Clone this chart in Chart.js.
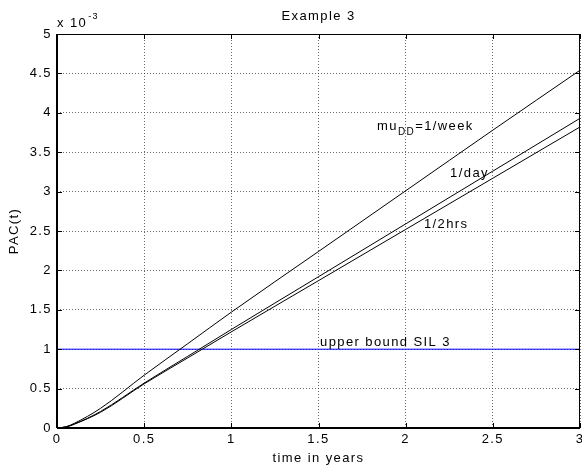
<!DOCTYPE html>
<html lang="en">

<head>
  <meta charset="utf-8">
  <title>Example 3</title>
  <script src="https://cdn.jsdelivr.net/npm/chart.js@4.4.0/dist/chart.umd.min.js"></script>
  <style>
    body { margin: 0; background: #fff; }
    #wrap { width: 582px; height: 470px; }
  </style>
</head>

<body>
  <div id="wrap"><canvas id="myChart" width="582" height="470"></canvas></div>

  <script>
    // time in years, PAC(t) in units of 1e-3
    const years = [0, 0.05, 0.1, 0.25, 0.5, 0.75, 1, 1.5, 2, 2.5, 3];
    const pacWeek = [0, 0.015, 0.06, 0.25, 0.67, 1.07, 1.47, 2.24, 3.01, 3.78, 4.54];
    const pacDay = [0, 0.012, 0.05, 0.21, 0.57, 0.91, 1.25, 1.92, 2.59, 3.26, 3.93];
    const pacHalfHr = [0, 0.012, 0.05, 0.2, 0.56, 0.89, 1.22, 1.87, 2.52, 3.17, 3.82];
    const silBound = [1, 1];
    const silX = [0, 3];
    const yTicks = [0, 0.5, 1, 1.5, 2, 2.5, 3, 3.5, 4, 4.5, 5];

    const labelNotes = [
      { x: 1.836, y: 3.78, main: 'mu', sub: 'DD', rest: '=1/week' },
      { x: 2.255, y: 3.18, main: '1/day' },
      { x: 2.105, y: 2.54, main: '1/2hrs' },
      { x: 1.509, y: 1.04, main: 'upper bound SIL 3' }
    ];

    const pts = (xs, ys) => xs.map((x, i) => ({ x: x, y: ys[i] }));
    const FONT = 'Liberation Sans, Arial, Helvetica, sans-serif';
    const SPACING = '1.4px';
    const fmt = v => String(parseFloat(Number(v).toFixed(2)));

    const boxPlugin = {
      id: 'box',
      beforeLayout(chart) { chart.ctx.letterSpacing = SPACING; },
      beforeDraw(chart) { chart.ctx.letterSpacing = SPACING; },
      afterDraw(chart) {
        const c = chart.ctx, a = chart.chartArea;
        const xs = chart.scales.x, ys = chart.scales.y;
        c.save();
        c.letterSpacing = SPACING;
        c.strokeStyle = '#000';
        c.lineWidth = 1;
        c.strokeRect(a.left + 0.5, a.top + 0.5, a.right - a.left - 1, a.bottom - a.top - 1);
        // inward ticks like matlab
        c.beginPath();
        xs.ticks.forEach(t => {
          const px = Math.round(xs.getPixelForValue(t.value)) + 0.5;
          c.moveTo(px, a.bottom); c.lineTo(px, a.bottom - 5);
          c.moveTo(px, a.top); c.lineTo(px, a.top + 5);
        });
        ys.ticks.forEach(t => {
          const py = Math.round(ys.getPixelForValue(t.value)) + 0.5;
          c.moveTo(a.left, py); c.lineTo(a.left + 5, py);
          c.moveTo(a.right, py); c.lineTo(a.right - 5, py);
        });
        c.stroke();
        // left and bottom axes are thicker
        c.lineWidth = 2;
        c.beginPath();
        c.moveTo(a.left, a.top); c.lineTo(a.left, a.bottom);
        c.moveTo(a.left, a.bottom); c.lineTo(a.right, a.bottom);
        c.stroke();

        c.fillStyle = '#000';
        c.font = '13px ' + FONT;
        c.textAlign = 'center';
        c.textBaseline = 'alphabetic';
        c.fillText('Example 3', (a.left + a.right) / 2, 20);
        c.fillText('time in years', (a.left + a.right) / 2, 462);
        c.save();
        c.translate(18, (a.top + a.bottom) / 2);
        c.rotate(-Math.PI / 2);
        c.fillText('PAC(t)', 0, 0);
        c.restore();

        // x 10^-3 multiplier
        c.textAlign = 'left';
        c.fillText('x 10', a.left, a.top - 7);
        const w10 = c.measureText('x 10').width;
        c.font = '9px ' + FONT;
        c.fillText('-3', a.left + w10 + 1, a.top - 15);

        // curve labels
        labelNotes.forEach(n => {
          const px = xs.getPixelForValue(n.x), py = ys.getPixelForValue(n.y);
          c.font = '13px ' + FONT;
          c.fillText(n.main, px, py);
          if (n.sub) {
            let w = c.measureText(n.main).width;
            c.font = '10px ' + FONT;
            c.fillText(n.sub, px + w, py + 5);
            w += c.measureText(n.sub).width;
            c.font = '13px ' + FONT;
            c.fillText(n.rest, px + w, py);
          }
        });
        c.restore();
      }
    };

    const line = (data, color) => ({
      data: data,
      borderColor: color,
      borderWidth: 1,
      pointRadius: 0,
      showLine: true,
      fill: false,
      cubicInterpolationMode: 'monotone'
    });

    const ctx = document.getElementById('myChart').getContext('2d');
    const myChart = new Chart(ctx, {
      type: 'scatter',
      data: {
        datasets: [
          line(pts(years, pacWeek), '#000'),
          line(pts(years, pacDay), '#000'),
          line(pts(years, pacHalfHr), '#000'),
          line(pts(silX, silBound), '#0000ff')
        ]
      },
      options: {
        responsive: false,
        animation: false,
        layout: { padding: { left: 0, right: 2, top: 34, bottom: 0 } },
        plugins: { legend: { display: false }, tooltip: { enabled: false } },
        scales: {
          x: {
            type: 'linear', min: 0, max: 3,
            ticks: { stepSize: 0.5, color: '#000', font: { size: 13, family: FONT }, padding: 4, callback: fmt },
            grid: { color: '#444', lineWidth: 0.8, drawTicks: false },
            border: { display: false, dash: [1, 2] },
            afterFit(s) { s.height = 42; s.paddingLeft = 0; s.paddingRight = 0; }
          },
          y: {
            min: 0, max: 5,
            afterBuildTicks(s) { s.ticks = yTicks.map(v => ({ value: v })); },
            ticks: { color: '#000', font: { size: 13, family: FONT }, padding: 5, callback: fmt },
            grid: { color: '#444', lineWidth: 0.8, drawTicks: false },
            border: { display: false, dash: [1, 2] },
            afterFit(s) { s.width = 57; s.paddingTop = 0; s.paddingBottom = 0; }
          }
        }
      },
      plugins: [boxPlugin]
    });
  </script>

</body>

</html>
